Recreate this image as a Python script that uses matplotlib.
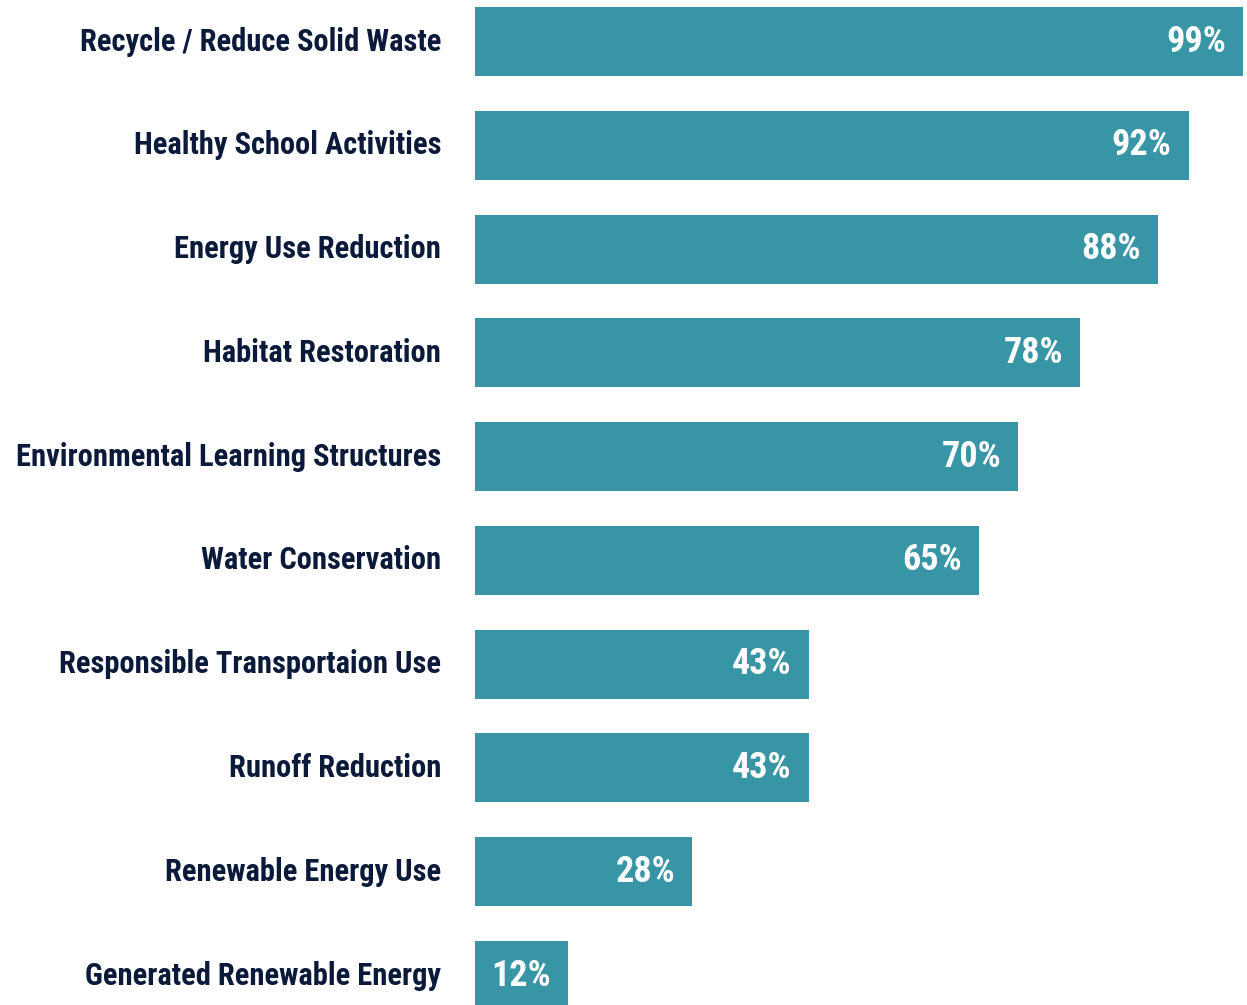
import matplotlib.pyplot as plt
import matplotlib.transforms as mtransforms

# Data
categories = [
    "Recycle / Reduce Solid Waste",
    "Healthy School Activities",
    "Energy Use Reduction",
    "Habitat Restoration",
    "Environmental Learning Structures",
    "Water Conservation",
    "Responsible Transportaion Use",
    "Runoff Reduction",
    "Renewable Energy Use",
    "Generated Renewable Energy",
]
values = [99, 92, 88, 78, 70, 65, 43, 43, 28, 12]

bar_color = "#3795A6"
text_color = "#0B1A3A"
font = ["Roboto Condensed", "DejaVu Sans"]

fig = plt.figure(figsize=(12.47, 10.05), dpi=100)
ax = fig.add_axes([475 / 1247, 0, (1243 - 475) / 1247, 1])

ypos = list(range(len(categories)))
ax.barh(ypos, values, height=0.665, color=bar_color)

ax.set_xlim(0, 99)
ax.set_ylim(9.284, -0.4)

# value labels inside the bars, right aligned
offset = mtransforms.offset_copy(ax.transData, fig=fig, x=-17, y=0, units="dots")
for y, v in zip(ypos, values):
    ax.text(v, y, f"{v}%", transform=offset, ha="right", va="center",
            color="white", fontsize=26, fontweight="bold", family=font)

# category labels to the left of the axes
lab = mtransforms.offset_copy(ax.transData, fig=fig, x=-34, y=0, units="dots")
for y, c in zip(ypos, categories):
    ax.text(0, y, c, transform=lab, ha="right", va="center",
            color=text_color, fontsize=22, fontweight="bold", family=font)

ax.axis("off")

fig.savefig("out.png", dpi=100)
